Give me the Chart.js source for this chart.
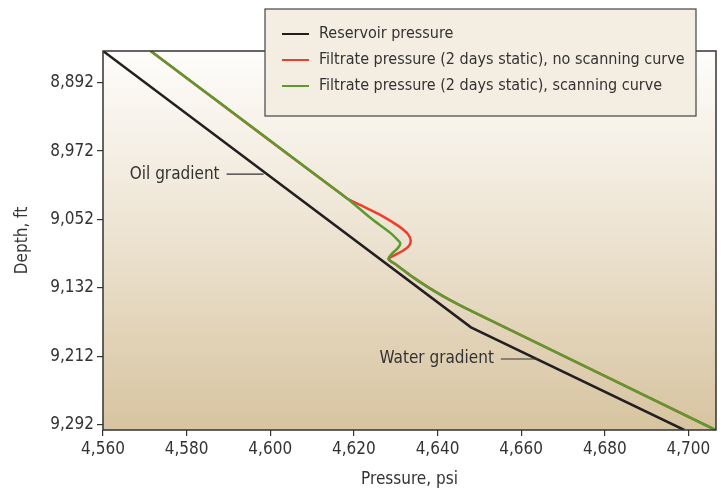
<!DOCTYPE html>
<html>
<head>
<meta charset="utf-8">
<script src="https://cdn.jsdelivr.net/npm/chart.js@4.4.1/dist/chart.umd.min.js"></script>
<style>
  html, body { margin: 0; padding: 0; background: #fff; }
  #wrap { width: 722px; height: 493px; }
</style>
</head>
<body>
<div id="wrap"><canvas id="chart" width="722" height="493"></canvas></div>
<script>
// tick labels
const pressureTicks = [4560, 4580, 4600, 4620, 4640, 4660, 4680, 4700];
const depthTicks = [8892, 8972, 9052, 9132, 9212, 9292];

// series (psi / ft)
const reservoirPsi = [4560, 4648, 4699];
const reservoirDepth = [8855, 9178, 9298];

const noScanPsi = [4571.4, 4618.3, 4621.6, 4626.4, 4630.7, 4632.9, 4633.6, 4632.9, 4630.7, 4628.8, 4628.3, 4630.3, 4634.1, 4637.9, 4641.3, 4644.6, 4648.4, 4706.6];
const noScanDepth = [8855, 9027, 9035.1, 9046.8, 9059.7, 9069.0, 9077.2, 9084.2, 9091.3, 9096.0, 9098.3, 9105.3, 9119.3, 9131.6, 9141.5, 9150.3, 9159.7, 9298.3];

const scanPsi = [4571.4, 4618.3, 4624.0, 4628.8, 4630.5, 4631.1, 4630.5, 4629.0, 4628.3, 4630.3, 4634.1, 4637.9, 4641.3, 4644.6, 4648.4, 4706.6];
const scanDepth = [8855, 9027, 9050.3, 9067.9, 9076.1, 9079.6, 9085.4, 9092.4, 9098.3, 9105.3, 9119.3, 9131.6, 9141.5, 9150.3, 9159.7, 9298.3];

const seriesNames = [
  "Reservoir pressure",
  "Filtrate pressure (2 days static), no scanning curve",
  "Filtrate pressure (2 days static), scanning curve"
];

// callout labels and the point on the curve they point at
const calloutText = ["Oil gradient", "Water gradient"];
const calloutPsi = [4598.4, 4664];
const calloutDepth = [8999, 9215];

const FONT = "'Liberation Sans Narrow', 'DejaVu Sans Condensed', 'Roboto', sans-serif";
const TEXT = "#333333";
const colors = ["#231f20", "#ef3e2d", "#5b9a31"];

const toPoints = (xs, ys) => xs.map((x, i) => ({ x: x, y: ys[i] }));

const decor = {
  id: "decor",
  beforeDraw(chart) {
    const { ctx, chartArea: a } = chart;
    ctx.save();
    ctx.fillStyle = "#ffffff";
    ctx.fillRect(0, 0, chart.width, chart.height);
    const g = ctx.createLinearGradient(0, a.top, 0, a.bottom);
    g.addColorStop(0, "#fefdfb");
    g.addColorStop(0.5, "#ece2d0");
    g.addColorStop(1, "#d7c4a0");
    ctx.fillStyle = g;
    ctx.fillRect(a.left, a.top, a.right - a.left, a.bottom - a.top);
    ctx.restore();
  },
  afterDraw(chart) {
    const { ctx, chartArea: a, scales } = chart;
    ctx.save();
    // plot frame
    ctx.strokeStyle = "#333333";
    ctx.lineWidth = 1.5;
    ctx.strokeRect(a.left, a.top, a.right - a.left, a.bottom - a.top);

    // callouts
    ctx.font = "17px " + FONT;
    ctx.fillStyle = TEXT;
    ctx.textBaseline = "middle";
    ctx.textAlign = "right";
    ctx.lineWidth = 1.2;
    calloutText.forEach((t, i) => {
      const px = scales.x.getPixelForValue(calloutPsi[i]);
      const py = scales.y.getPixelForValue(calloutDepth[i]);
      ctx.beginPath();
      ctx.moveTo(px, py);
      ctx.lineTo(px - 37, py);
      ctx.stroke();
      ctx.fillText(t, px - 44, py);
    });

    // legend box
    const lx = 265, ly = 9, lw = 431, lh = 107;
    ctx.fillStyle = "#f3ede2";
    ctx.fillRect(lx, ly, lw, lh);
    ctx.strokeStyle = "#444444";
    ctx.lineWidth = 1.2;
    ctx.strokeRect(lx, ly, lw, lh);
    ctx.font = "16px " + FONT;
    ctx.textAlign = "left";
    seriesNames.forEach((name, i) => {
      const y = 34 + i * 26;
      ctx.strokeStyle = colors[i];
      ctx.lineWidth = 2;
      ctx.beginPath();
      ctx.moveTo(282, y);
      ctx.lineTo(309, y);
      ctx.stroke();
      ctx.fillStyle = TEXT;
      ctx.fillText(name, 319, y);
    });
    ctx.restore();
  }
};

const ctx = document.getElementById("chart").getContext("2d");
new Chart(ctx, {
  type: "scatter",
  data: {
    datasets: [
      {
        label: seriesNames[0],
        data: toPoints(reservoirPsi, reservoirDepth),
        borderColor: colors[0],
        borderWidth: 2.5,
        order: 2
      },
      {
        label: seriesNames[1],
        data: toPoints(noScanPsi, noScanDepth),
        borderColor: colors[1],
        borderWidth: 2.5,
        tension: 0.3,
        order: 1
      },
      {
        label: seriesNames[2],
        data: toPoints(scanPsi, scanDepth),
        borderColor: colors[2],
        borderWidth: 2.5,
        tension: 0.3,
        order: 0
      }
    ].map((d) => Object.assign({ showLine: true, pointRadius: 0, fill: false }, d))
  },
  options: {
    responsive: false,
    animation: false,
    layout: { padding: { top: 51, right: 6, left: 0, bottom: 0 } },
    plugins: {
      legend: { display: false },
      tooltip: { enabled: false }
    },
    scales: {
      x: {
        type: "linear",
        min: 4560,
        max: 4706.6,
        afterBuildTicks: (s) => { s.ticks = pressureTicks.map((v) => ({ value: v })); },
        afterFit: (s) => { s.height = 63; },
        border: { display: false },
        grid: { drawOnChartArea: false, drawTicks: true, tickLength: 6, color: "#333333", lineWidth: 1.2 },
        ticks: {
          color: TEXT,
          font: { family: FONT, size: 17 },
          padding: 3,
          maxRotation: 0,
          callback: (v) => v.toLocaleString("en-US")
        },
        title: {
          display: true,
          text: "Pressure, psi",
          color: TEXT,
          font: { family: FONT, size: 17 },
          padding: { top: 0, bottom: 3 }
        }
      },
      y: {
        type: "linear",
        reverse: true,
        min: 8855,
        max: 9298,
        afterBuildTicks: (s) => { s.ticks = depthTicks.map((v) => ({ value: v })); },
        afterFit: (s) => { s.width = 103; },
        border: { display: false },
        grid: { drawOnChartArea: false, drawTicks: true, tickLength: 6, color: "#333333", lineWidth: 1.2 },
        ticks: {
          color: TEXT,
          font: { family: FONT, size: 17 },
          padding: 3,
          callback: (v) => v.toLocaleString("en-US")
        },
        title: {
          display: true,
          text: "Depth, ft",
          color: TEXT,
          font: { family: FONT, size: 17 },
          padding: { top: 12, bottom: 0 }
        }
      }
    }
  },
  plugins: [decor]
});
</script>
</body>
</html>
